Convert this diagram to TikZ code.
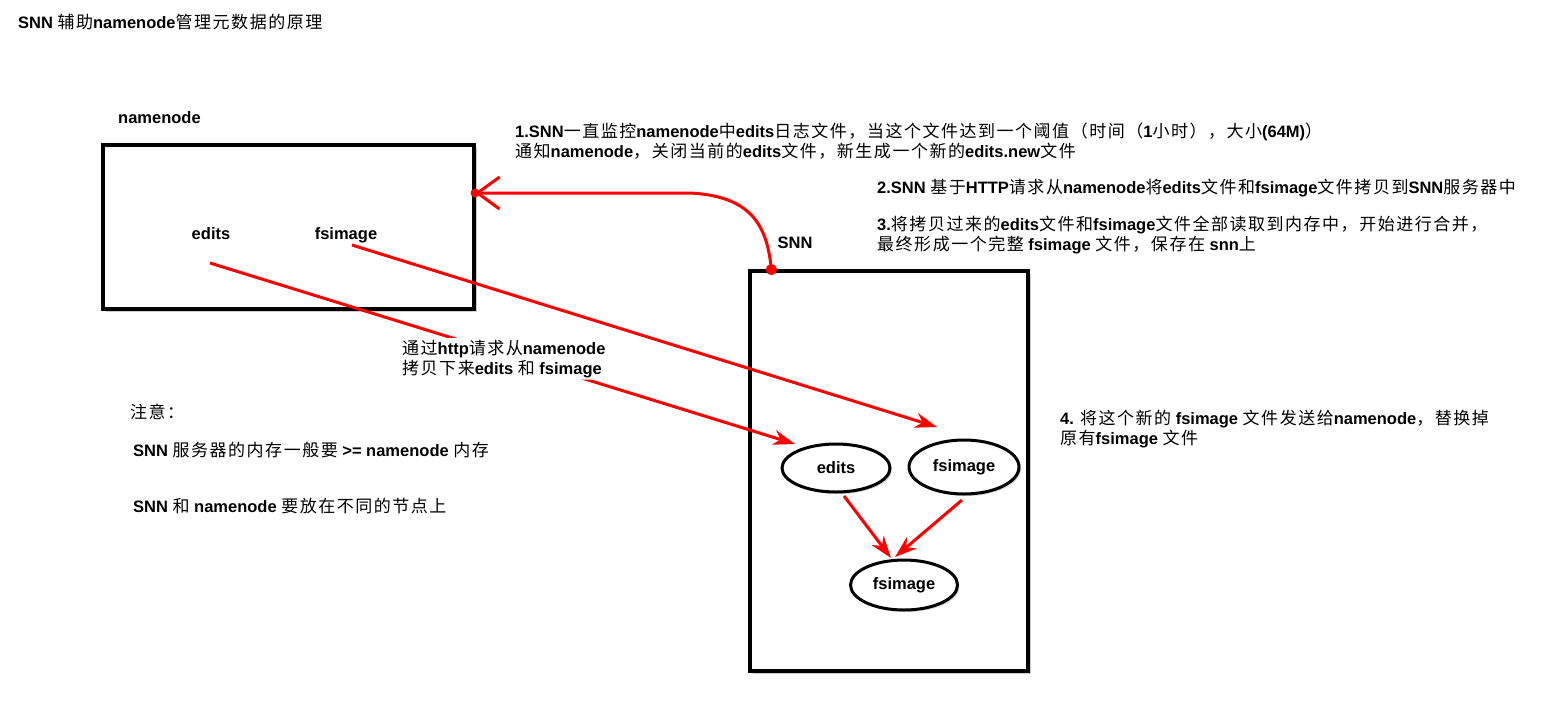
\documentclass[tikz,border=0pt]{standalone}
\usepackage{fontspec}
\setmainfont{Liberation Sans}
\newfontfamily\cjkf{Noto Sans CJK SC}[Scale=1.03,LetterSpace=9]
\usetikzlibrary{arrows.meta,shapes.geometric,shadows}
\newcommand\zhx[1]{{\cjkf\mdseries#1}}
\tikzset{
  txt/.style={font=\fontsize{16.5}{19.5}\selectfont\bfseries, inner sep=0pt, align=left, anchor=base west},
  box/.style={draw=black, line width=4pt, fill=white, drop shadow={opacity=0.4, shadow xshift=3pt, shadow yshift=-3pt}},
  ell/.style={ellipse, draw=black, line width=3pt, fill=white, drop shadow={opacity=0.35, shadow xshift=2pt, shadow yshift=-2pt}, font=\fontsize{16.5}{19.5}\selectfont\bfseries, inner sep=0pt},
  redarr/.style={draw=red, line width=3pt, -{Stealth[length=22pt,width=15pt,inset=7pt]}},
}
\begin{document}
\begin{tikzpicture}[x=1pt,y=-1pt]
\useasboundingbox[fill=white] (0,0) rectangle (1547,710);
% boxes
\node[box, minimum width=371pt, minimum height=164pt] (nn) at (288.5,227) {};
\node[box, minimum width=278pt, minimum height=400pt] (snn) at (889,471) {};
% labels
\node[txt] (title) at (18,28) {SNN \zhx{辅助}namenode\zhx{管理元数据的原理}};
\node[txt] (nnlab) at (118,123) {namenode};
\node[txt, anchor=base] (nedits) at (211,239) {edits};
\node[txt, anchor=base] (nfs) at (346,239) {fsimage};
\node[txt, anchor=base] (snnlab) at (795,248) {SNN};
% ellipses
\node[ell, minimum width=108pt, minimum height=48pt] (e1) at (836,468) {edits};
\node[ell, minimum width=110pt, minimum height=54pt] (f1) at (964,467) {fsimage};
\node[ell, minimum width=107pt, minimum height=50pt] (f2) at (904,585) {fsimage};
% arrow ends
\coordinate (a1s) at (210,263);
\coordinate (a1e) at (795,444);
\coordinate (a2s) at (352,245);
\coordinate (a2e) at (937,427);
\coordinate (a3s) at (844,496);
\coordinate (a3e) at (891,558);
\coordinate (a4s) at (962,500);
\coordinate (a4e) at (895,557);
\coordinate (cs) at (772,275);
\coordinate (ce) at (475,193);
\draw[redarr] (a1s) -- (a1e);
\draw[redarr] (a2s) -- (a2e);
\draw[redarr] (a3s) -- (a3e);
\draw[redarr] (a4s) -- (a4e);
\draw[red, line width=3pt, {Circle[length=11pt]}-{Straight Barb[length=22pt,width=32pt,line width=3pt]}]
  (cs) .. controls (766,222) and (748,196) .. (690,193) -- (ce);
\fill[red] (ce) circle (4.5pt);
% texts (base anchor = baseline of last line)
\node[txt, fill=white, inner sep=2pt, rounded corners=4pt] (http) at (400,374) {\zhx{通过}http\zhx{请求从}namenode\\\zhx{拷贝下来}edits \zhx{和} fsimage};
\node[txt] (t1) at (515,157) {1.SNN\zhx{一直监控}namenode\zhx{中}edits\zhx{日志文件，当这个文件达到一个阈值（时间（}1\zhx{小时），大小}(64M)\zhx{）}\\\zhx{通知}namenode\zhx{，关闭当前的}edits\zhx{文件，新生成一个新的}edits.new\zhx{文件}};
\node[txt] (t2) at (877,193) {2.SNN \zhx{基于}HTTP\zhx{请求从}namenode\zhx{将}edits\zhx{文件和}fsimage\zhx{文件拷贝到}SNN\zhx{服务器中}};
\node[txt] (t3) at (877,250) {3.\zhx{将拷贝过来的}edits\zhx{文件和}fsimage\zhx{文件全部读取到内存中，开始进行合并，}\\\zhx{最终形成一个完整} fsimage \zhx{文件，保存在} snn\zhx{上}};
\node[txt] (t4) at (1060,444) {4. \zhx{将这个新的} fsimage \zhx{文件发送给}namenode\zhx{，替换掉}\\\zhx{原有}fsimage \zhx{文件}};
\node[txt] (n0) at (130,418) {\zhx{注意：}};
\node[txt] (n1) at (133,456) {SNN \zhx{服务器的内存一般要} >= namenode \zhx{内存}};
\node[txt] (n2) at (133,512) {SNN \zhx{和} namenode \zhx{要放在不同的节点上}};
\end{tikzpicture}
\end{document}
